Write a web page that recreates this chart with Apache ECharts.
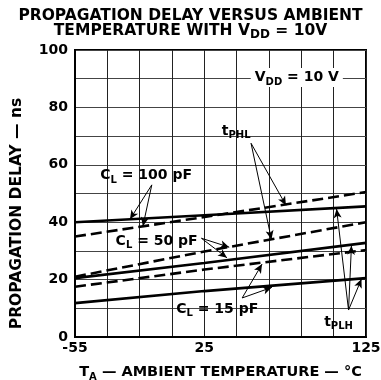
<!DOCTYPE html>
<html>
<head>
<meta charset="utf-8">
<script src="https://cdn.jsdelivr.net/npm/echarts@6/dist/echarts.min.js"></script>
<style>
  html, body { margin: 0; padding: 0; background: #fff; }
  #chart { width: 381px; height: 380px; }
</style>
</head>
<body>
<div id="chart"></div>
<script>
// Ambient temperature range (°C) and the sample temperatures of each curve
const T_MIN = -55;
const T_MAX = 125;
const temps = [-55, 25, 125];

// Propagation delay (ns) per load capacitance
const cl100_tPLH = [40, 42.4, 45.5];
const cl100_tPHL = [35, 41.8, 50.5];
const cl50_tPHL  = [21, 29.8, 40];
const cl50_tPLH  = [20.5, 25.8, 32.8];
const cl15_tPHL  = [17.5, 23.5, 30.3];
const cl15_tPLH  = [11.8, 16, 20.5];

// Tick labels
const xTickLabels = [-55, 25, 125];
const yTickLabels = [0, 20, 40, 60, 80, 100];

// Callout texts, placed in (°C, ns)
const calloutTexts = [
  { text: 'C{s|L} = 100 pF', at: [-11, 56.3] },
  { text: 'C{s|L} = 50 pF',  at: [-4.5, 33.4] },
  { text: 'C{s|L} = 15 pF',  at: [33, 9.7] },
  { text: 't{s|PHL}',        at: [44.7, 71.7] },
  { text: 't{s|PLH}',        at: [108, 5.2] },
  { text: 'V{s|DD} = 10 V',  at: [82.2, 90.4], boxed: true }
];

// Callout arrows: [from, to] in (°C, ns)
const calloutArrows = [
  [[-7.5, 53], [-21, 41.0]],
  [[-7.5, 53], [-13, 38.6]],
  [[23.2, 34.4], [40.4, 31.3]],
  [[23.2, 34.4], [39, 27.6]],
  [[53.9, 67.5], [75.5, 45.9]],
  [[53.9, 67.5], [66.5, 34]],
  [[114.2, 9.4], [106.8, 44.6]],
  [[114.2, 9.4], [116, 31.8]],
  [[114.2, 9.4], [122.2, 20.2]],
  [[48.4, 13.6], [60.7, 25.4]],
  [[48.4, 13.6], [66.8, 17.3]]
];

const FONT = 'DejaVu Sans';
const toAxis = t => t - T_MIN;          // x axis runs in degrees above T_MIN
const pts = vals => temps.map((t, i) => [toAxis(t), vals[i]]);

const solid  = { color: '#000', width: 2.6, type: 'solid' };
const dashed = { color: '#000', width: 2.6, type: [11, 5] };

function curve(name, vals, style) {
  return {
    name, type: 'line', data: pts(vals), symbol: 'none', silent: true,
    lineStyle: style, itemStyle: { color: '#000' }, z: 3
  };
}

const series = [
  curve('CL100 tPLH', cl100_tPLH, solid),
  curve('CL100 tPHL', cl100_tPHL, dashed),
  curve('CL50 tPHL',  cl50_tPHL,  dashed),
  curve('CL50 tPLH',  cl50_tPLH,  solid),
  curve('CL15 tPHL',  cl15_tPHL,  dashed),
  curve('CL15 tPLH',  cl15_tPLH,  solid),
  {
    name: 'arrows', type: 'line', data: [], silent: true,
    markLine: {
      silent: true, animation: false,
      symbol: ['none', 'arrow'], symbolSize: [6, 9],
      label: { show: false },
      lineStyle: { color: '#000', width: 1, type: 'solid' },
      data: calloutArrows.map(([a, b]) => [
        { coord: [toAxis(a[0]), a[1]] },
        { coord: [toAxis(b[0]), b[1]] }
      ])
    }
  }
];

const subRich = {
  s: { fontFamily: FONT, fontWeight: 'bold', fontSize: 10, color: '#000', padding: [9, 0, 0, 0] }
};

const chart = echarts.init(document.getElementById('chart'), null, { renderer: 'canvas' });

chart.setOption({
  animation: false,
  backgroundColor: '#fff',
  title: {
    left: 'center', top: 3,
    text: 'PROPAGATION DELAY VERSUS AMBIENT\nTEMPERATURE WITH V{s|DD} = 10V',
    textStyle: {
      fontFamily: FONT, fontWeight: 'bold', fontSize: 15.5, color: '#000', lineHeight: 15,
      rich: { s: { fontFamily: FONT, fontWeight: 'bold', fontSize: 12, color: '#000', padding: [8, 0, 0, 0] } }
    }
  },
  grid: {
    left: 75, right: 15, top: 50, bottom: 43,
    containLabel: false, outerBoundsMode: 'none',
    show: true, borderColor: '#000', borderWidth: 2, backgroundColor: '#fff'
  },
  xAxis: {
    type: 'value', min: 0, max: T_MAX - T_MIN, interval: 20,
    name: 'T{s|A} — AMBIENT TEMPERATURE — °C',
    nameLocation: 'middle', nameGap: 26,
    nameTextStyle: {
      fontFamily: FONT, fontWeight: 'bold', fontSize: 14.5, color: '#000',
      rich: subRich
    },
    axisLine: { show: true, lineStyle: { color: '#000', width: 2 } },
    axisTick: { show: false },
    splitLine: { show: true, lineStyle: { color: '#222', width: 1 } },
    axisLabel: {
      margin: 4, fontFamily: FONT, fontWeight: 'bold', fontSize: 14, color: '#000',
      showMinLabel: true, showMaxLabel: true, hideOverlap: false,
      formatter: v => {
        const t = v + T_MIN;
        return xTickLabels.includes(t) ? String(t) : '';
      }
    }
  },
  yAxis: {
    type: 'value', min: 0, max: 100, interval: 10,
    name: 'PROPAGATION DELAY — ns',
    nameLocation: 'middle', nameGap: 50, nameRotate: 90,
    nameTextStyle: {
      fontFamily: FONT, fontWeight: 'bold', fontSize: 15.5, color: '#000',
      padding: [0, 40, 0, 0]
    },
    axisLine: { show: true, lineStyle: { color: '#000', width: 2 } },
    axisTick: { show: false },
    splitLine: { show: true, lineStyle: { color: '#444', width: 1 } },
    axisLabel: {
      margin: 7, fontFamily: FONT, fontWeight: 'bold', fontSize: 14, color: '#000',
      formatter: v => (yTickLabels.includes(v) ? String(v) : '')
    }
  },
  series
});

// Place the callout texts through the chart's own scales
const graphic = calloutTexts.map(c => {
  const p = chart.convertToPixel({ gridIndex: 0 }, [toAxis(c.at[0]), c.at[1]]);
  return {
    type: 'text', x: p[0], y: p[1], z: 10, silent: true,
    style: {
      text: c.text, fontFamily: FONT, fontWeight: 'bold', fontSize: 14, fill: '#000',
      align: 'center', verticalAlign: 'middle',
      backgroundColor: c.boxed ? '#fff' : null,
      padding: c.boxed ? [0, 4] : 0,
      rich: {
        s: { fontFamily: FONT, fontWeight: 'bold', fontSize: 10, fill: '#000', padding: [9, 0, 0, 0] }
      }
    }
  };
});
chart.setOption({ graphic });
</script>
</body>
</html>
